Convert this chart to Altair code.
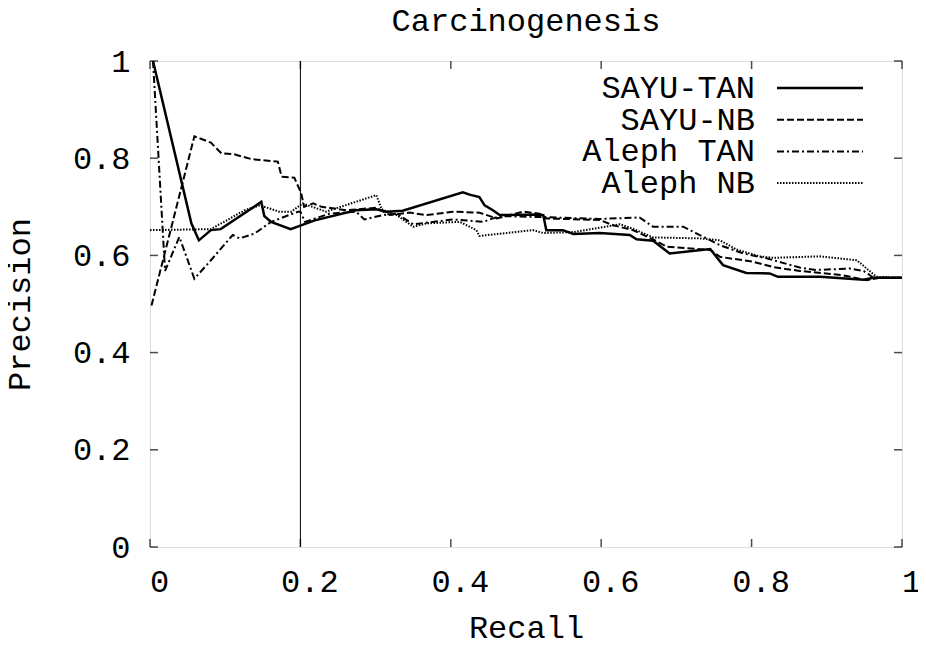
import altair as alt
import pandas as pd

# ---------------- data ----------------
chart_title = ["Carcinogenesis"]
series_names = ["SAYU-TAN", "SAYU-NB", "Aleph TAN", "Aleph NB"]

sayu_tan_recall = [0.004, 0.055, 0.065, 0.081, 0.094, 0.148, 0.152, 0.161, 0.187, 0.219,
                   0.274, 0.301, 0.314, 0.336, 0.416, 0.425, 0.438, 0.445, 0.456, 0.465,
                   0.514, 0.523, 0.527, 0.549, 0.563, 0.598, 0.638, 0.647, 0.669, 0.691,
                   0.745, 0.762, 0.793, 0.824, 0.835, 0.891, 0.949, 0.962, 1.0]
sayu_tan_prec = [1.0, 0.666, 0.631, 0.652, 0.654, 0.710, 0.681, 0.669, 0.654, 0.672,
                 0.693, 0.695, 0.690, 0.692, 0.730, 0.725, 0.720, 0.703, 0.693, 0.683,
                 0.684, 0.683, 0.652, 0.652, 0.644, 0.646, 0.642, 0.633, 0.630, 0.604,
                 0.613, 0.580, 0.564, 0.563, 0.556, 0.556, 0.550, 0.554, 0.554]

sayu_nb_recall = [0.002, 0.059, 0.081, 0.095, 0.112, 0.135, 0.170, 0.175, 0.192, 0.201,
                  0.205, 0.217, 0.228, 0.261, 0.301, 0.319, 0.345, 0.368, 0.403, 0.438,
                  0.461, 0.496, 0.518, 0.527, 0.598, 0.616, 0.642, 0.669, 0.687, 0.745,
                  0.758, 0.802, 0.829, 0.864, 0.922, 0.953, 0.971, 1.0]
sayu_nb_prec = [0.497, 0.845, 0.832, 0.810, 0.808, 0.798, 0.793, 0.762, 0.760, 0.728,
                0.700, 0.707, 0.700, 0.693, 0.698, 0.683, 0.688, 0.683, 0.690, 0.688,
                0.676, 0.690, 0.686, 0.676, 0.673, 0.662, 0.652, 0.633, 0.618, 0.611,
                0.597, 0.587, 0.576, 0.568, 0.559, 0.549, 0.554, 0.554]

aleph_tan_recall = [0.004, 0.020, 0.039, 0.059, 0.081, 0.110, 0.119, 0.139, 0.161, 0.197,
                    0.200, 0.206, 0.239, 0.274, 0.285, 0.310, 0.328, 0.350, 0.403, 0.443,
                    0.465, 0.518, 0.598, 0.651, 0.669, 0.709, 0.727, 0.758, 0.789, 0.820,
                    0.864, 0.886, 0.931, 0.949, 0.962, 1.0]
aleph_tan_prec = [1.0, 0.568, 0.638, 0.552, 0.590, 0.642, 0.635, 0.645, 0.669, 0.690,
                  0.690, 0.669, 0.686, 0.690, 0.674, 0.683, 0.686, 0.664, 0.674, 0.669,
                  0.681, 0.679, 0.675, 0.678, 0.659, 0.659, 0.645, 0.621, 0.604, 0.594,
                  0.575, 0.570, 0.573, 0.568, 0.554, 0.554]

aleph_nb_recall = [0.0, 0.081, 0.126, 0.146, 0.172, 0.188, 0.203, 0.234, 0.301, 0.308,
                   0.328, 0.350, 0.368, 0.412, 0.434, 0.438, 0.509, 0.523, 0.563, 0.625,
                   0.642, 0.669, 0.731, 0.758, 0.780, 0.811, 0.829, 0.891, 0.940, 0.953,
                   0.966, 1.0]
aleph_nb_prec = [0.652, 0.654, 0.693, 0.703, 0.690, 0.690, 0.707, 0.690, 0.724, 0.695,
                 0.683, 0.659, 0.666, 0.669, 0.652, 0.640, 0.652, 0.646, 0.648, 0.664,
                 0.655, 0.637, 0.635, 0.631, 0.612, 0.598, 0.595, 0.598, 0.590, 0.573,
                 0.556, 0.554]

x_ticks = [0, 0.2, 0.4, 0.6, 0.8, 1.0]
y_ticks = [0, 0.2, 0.4, 0.6, 0.8, 1.0]
marker_recall = [0.2]

# ---------------- styling ----------------
W, H = 752, 486
FONT = "Liberation Mono"
FS = 32
styles = {
    "SAYU-TAN": dict(strokeWidth=2.5),
    "SAYU-NB": dict(strokeWidth=2, strokeDash=[7, 3]),
    "Aleph TAN": dict(strokeWidth=2, strokeDash=[7, 3, 2, 3]),
    "Aleph NB": dict(strokeWidth=2, strokeDash=[1.5, 1.5]),
}
series_data = {
    "SAYU-TAN": (sayu_tan_recall, sayu_tan_prec),
    "SAYU-NB": (sayu_nb_recall, sayu_nb_prec),
    "Aleph TAN": (aleph_tan_recall, aleph_tan_prec),
    "Aleph NB": (aleph_nb_recall, aleph_nb_prec),
}

xs = alt.Scale(domain=[0, 1], nice=False, zero=False)
ys = alt.Scale(domain=[0, 1], nice=False, zero=False)

x_axis = alt.Axis(values=x_ticks, format="~g", grid=False, ticks=False, tickSize=0,
                  domain=False, labelFont=FONT, labelFontSize=FS, labelColor="black",
                  labelPadding=19, labelOffset=9, labelFlush=False, labelOverlap=False,
                  title="Recall", titleFont=FONT, titleFontSize=FS, titleFontWeight="normal",
                  titleColor="black", titlePadding=15)
y_axis = alt.Axis(values=y_ticks, format="~g", grid=False, ticks=False, tickSize=0,
                  domain=False, labelFont=FONT, labelFontSize=FS, labelColor="black",
                  labelPadding=20, labelFlush=False, labelOverlap=False,
                  title="Precision", titleFont=FONT, titleFontSize=FS, titleFontWeight="normal",
                  titleColor="black", titlePadding=36)


def X(field):
    return alt.X(field, type="quantitative", scale=xs, axis=x_axis)


def Y(field):
    return alt.Y(field, type="quantitative", scale=ys, axis=y_axis)


layers = []
for name in series_names:
    r, p = series_data[name]
    df = pd.DataFrame({"recall": r, "precision": p, "idx": list(range(len(r)))})
    layers.append(
        alt.Chart(df).mark_line(color="black", **styles[name]).encode(
            x=X("recall"), y=Y("precision"), order="idx:Q"
        )
    )

# vertical marker at recall 0.2
layers.append(
    alt.Chart(pd.DataFrame({"recall": marker_recall})).mark_rule(color="black", strokeWidth=1).encode(
        x=X("recall")
    )
)

# inward ticks (gnuplot style) on all four sides
xt = pd.DataFrame({"recall": x_ticks})
yt = pd.DataFrame({"precision": y_ticks})
for ypix in [H - 4, 4]:
    layers.append(
        alt.Chart(xt).mark_tick(orient="vertical", size=8, thickness=1.5, color="black").encode(
            x=X("recall"), y=alt.value(ypix)
        )
    )
for xpix in [4, W - 4]:
    layers.append(
        alt.Chart(yt).mark_tick(orient="horizontal", size=8, thickness=1.5, color="black").encode(
            y=Y("precision"), x=alt.value(xpix)
        )
    )

# legend (labels right-aligned, sample lines to the right)
for i, name in enumerate(series_names):
    yrow = 27 + i * 31.7
    ld = pd.DataFrame({"name": [name]})
    layers.append(
        alt.Chart(ld).mark_text(align="right", baseline="middle", font=FONT, fontSize=FS,
                                color="black").encode(
            x=alt.value(605), y=alt.value(yrow), text="name:N"
        )
    )
    layers.append(
        alt.Chart(ld).mark_rule(color="black", **styles[name]).encode(
            x=alt.value(627), x2=alt.value(713), y=alt.value(yrow)
        )
    )

# chart title, drawn as a text mark above the frame
layers.append(
    alt.Chart(pd.DataFrame({"title": chart_title})).mark_text(
        align="center", baseline="alphabetic", font=FONT, fontSize=FS, color="black"
    ).encode(x=alt.value(W / 2), y=alt.value(-30), text="title:N")
)

chart = alt.layer(*layers).properties(
    width=W, height=H,
    autosize=alt.AutoSizeParams(type="none"),
    padding={"left": 142, "top": 53, "right": 16, "bottom": 92},
).configure_view(stroke="black", strokeWidth=2).configure(background="white")

chart.save("out.html", embed_options={"renderer": "svg", "actions": False})
